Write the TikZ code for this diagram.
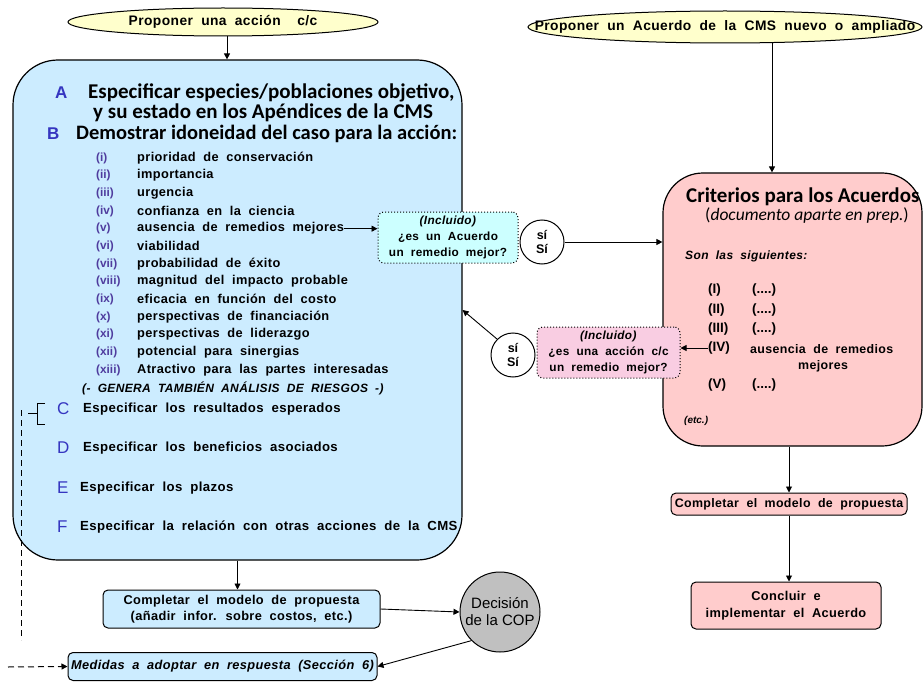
\documentclass[tikz,border=0pt]{standalone}
\usepackage{fontspec}
\setmainfont{Liberation Sans}
\newfontfamily\widefont{Liberation Sans}[LetterSpace=3]
\newfontfamily\calfont{Carlito}
\newcommand{\wf}[2]{\widefont\fontsize{#1}{#2}\selectfont\bfseries\spaceskip=0.6em plus 0.1em\relax}
\usetikzlibrary{shapes.geometric,arrows.meta}
\definecolor{lblue}{HTML}{CCECFF}
\definecolor{lcyan}{HTML}{CCFFFF}
\definecolor{lpink}{HTML}{FFCCCC}
\definecolor{lmauve}{HTML}{F9CDE2}
\definecolor{lyellow}{HTML}{FFFFCC}
\definecolor{cgray}{HTML}{C0C0C0}
\definecolor{letblue}{HTML}{3535C0}
\definecolor{numpurple}{HTML}{4F3C9E}
\tikzset{
  arr/.style={-{Triangle[length=6pt,width=6pt]}, line width=0.9pt},
  ell/.style={ellipse, draw, line width=1pt, fill=lyellow, inner sep=0pt},
  bigbox/.style={draw, line width=1.2pt, inner sep=0pt},
  smallbox/.style={draw, line width=1pt, rounded corners=5pt, inner sep=1pt, align=center},
  qbox/.style={draw, dotted, line width=1pt, rounded corners=6pt, inner sep=1pt, align=center, font=\wf{11.8}{16}},
  sicirc/.style={circle, draw, fill=white, line width=1pt, minimum size=44pt, inner sep=0pt, align=center, font=\fontsize{12.5}{14}\selectfont\bfseries},
  txt/.style={anchor=west, inner sep=0pt, font=\wf{12.8}{14}},
  num/.style={anchor=west, inner sep=0pt, text=numpurple, font=\fontsize{11.8}{13}\selectfont\bfseries},
  head/.style={anchor=west, inner sep=0pt, font=\fontsize{21}{22}\selectfont\calfont\bfseries},
  let/.style={anchor=west, inner sep=0pt, text=letblue, font=\fontsize{17}{19}\selectfont},
  rnum/.style={anchor=west, inner sep=0pt, font=\fontsize{13.5}{15}\selectfont\bfseries},
  dsh/.style={dash pattern=on 6pt off 4pt, line width=1pt},
}
\begin{document}
\begin{tikzpicture}[x=1pt,y=-1pt]
\useasboundingbox (0,0) rectangle (924,682);

% ---------- left column ----------
\node[ell, minimum width=310pt, minimum height=28pt] (E1) at (223,22) {};
\node[inner sep=0pt, font=\wf{13.8}{15}] (E1t) at (E1.center) {Proponer una acción\ \ c/c};
\node[bigbox, fill=lblue, rounded corners=45pt, minimum width=449pt, minimum height=500pt] (L) at (237.5,310) {};
\draw[arr] (227,0 |- E1.south) -- (227,0 |- L.north);

\node[let, font=\fontsize{17}{19}\selectfont\bfseries] (lA) at (55,93) {A};
\node[head] (hA1) at (88,93) {Especificar especies/poblaciones objetivo,};
\node[head] (hA2) at (93,113) {y su estado en los Apéndices de la CMS};
\node[let, font=\fontsize{17}{19}\selectfont\bfseries] (lB) at (47,134) {B};
\node[head, font=\fontsize{20.5}{22}\selectfont\calfont\bfseries] (hB) at (76,134) {Demostrar idoneidad del caso para la acción:};

\foreach \n/\t [count=\k from 0] in {
  (i)/prioridad de conservación,
  (ii)/importancia,
  (iii)/urgencia,
  (iv)/confianza en la ciencia,
  (v)/ausencia de remedios mejores,
  (vi)/viabilidad,
  (vii)/probabilidad de éxito,
  (viii)/magnitud del impacto probable,
  (ix)/eficacia en función del costo,
  (x)/perspectivas de financiación,
  (xi)/perspectivas de liderazgo,
  (xii)/potencial para sinergias,
  (xiii)/Atractivo para las partes interesadas}{
  \node[num] (n\k) at (96,158+17.67*\k) {\n};
  \node[txt] (t\k) at (137,158+17.67*\k) {\t};
}
\node[anchor=west, inner sep=0pt, font=\wf{12}{13}\itshape] (gen) at (82,388) {(- GENERA TAMBIÉN ANÁLISIS DE RIESGOS -)};

\node[let] (lC) at (57,409) {C};
\node[anchor=west, inner sep=0pt, font=\wf{13.2}{14}] (tC) at (83,409) {Especificar los resultados esperados};
\node[let] (lD) at (57,448) {D};
\node[anchor=west, inner sep=0pt, font=\wf{13.2}{14}] (tD) at (83,448) {Especificar los beneficios asociados};
\node[let] (lE) at (57,488) {E};
\node[anchor=west, inner sep=0pt, font=\wf{13.2}{14}] (tE) at (80,488) {Especificar los plazos};
\node[let] (lF) at (57,527) {F};
\node[anchor=west, inner sep=0pt, font=\wf{13.2}{14}] (tF) at (80,527) {Especificar la relación con otras acciones de la CMS};

% bracket and dashed line
\draw[line width=1pt] (28,413) -- (37,413);
\draw[line width=1pt] (45,403) -- (37,403) -- (37,424) -- (45,424);
\coordinate (dt) at (21,410);
\coordinate (db) at (21,640);
\draw[dsh] (dt) -- (db);

\node[smallbox, fill=lblue, minimum width=277pt, minimum height=38pt, font=\wf{12.8}{16}] (LC) at (241.5,609) {Completar el modelo de propuesta\\(añadir infor. sobre costos, etc.)};
\draw[arr] (L.south) -- (L.south |- LC.north);

\node[circle, draw, line width=1pt, fill=cgray, minimum size=80pt, inner sep=0pt, align=center, font=\fontsize{15}{17}\selectfont] (D) at (500,612) {Decisión\\de la COP};
\draw[arr] (LC.east) -- (D.west);

\node[smallbox, fill=lblue, minimum width=309pt, minimum height=28pt, font=\wf{12.8}{14}\itshape] (M) at (222.5,666.5) {Medidas a adoptar en respuesta (Sección 6)};
\draw[arr] (D.south west) -- (M.east);
\coordinate (ds) at (8,667);
\draw[arr, dsh] (ds) -- (M.west);

% ---------- right column ----------
\node[ell, minimum width=394pt, minimum height=32pt] (E2) at (725,27) {};
\node[inner sep=0pt, font=\wf{13.8}{15}] (E2t) at (E2.center) {Proponer un Acuerdo de la CMS nuevo o ampliado};

\node[bigbox, fill=lpink, rounded corners=40pt, minimum width=259pt, minimum height=273pt] (R) at (792.5,309.5) {};
\draw[arr] (772,0 |- E2.south) -- (772,0 |- R.north);

\node[head] (hR) at (686,197) {Criterios para los Acuerdos};
\node[anchor=west, inner sep=0pt, font=\fontsize{17.5}{19}\selectfont\calfont] (hR2) at (705,216) {(\textit{documento aparte en prep.})};
\node[anchor=west, inner sep=0pt, font=\wf{12}{13}\itshape] (son) at (685,256) {Son las siguientes:};
\node[rnum] (r1) at (708,290) {(I)};
\node[rnum] (d1) at (752,290) {(....)};
\node[rnum] (r2) at (708,310) {(II)};
\node[rnum] (d2) at (752,310) {(....)};
\node[rnum] (r3) at (708,329) {(III)};
\node[rnum] (d3) at (752,329) {(....)};
\node[rnum] (r4) at (708,348) {(IV)};
\node[anchor=west, inner sep=0pt, font=\wf{12.4}{13}] (a4) at (750,349) {ausencia de remedios};
\node[anchor=west, inner sep=0pt, font=\wf{12.4}{13}] (a5) at (798,366) {mejores};
\node[rnum] (r5) at (708,385) {(V)};
\node[rnum] (d5) at (752,385) {(....)};
\node[anchor=west, inner sep=0pt, font=\fontsize{10}{12}\selectfont\bfseries\itshape] (etc) at (684,421) {(etc.)};

\node[smallbox, fill=lpink, minimum width=236pt, minimum height=22pt, inner sep=0pt, font=\wf{12.4}{13}] (RC) at (789,504) {Completar el modelo de propuesta};
\draw[arr] (RC.north |- R.south) -- (RC.north);
\node[smallbox, fill=lpink, minimum width=190pt, minimum height=47pt, font=\wf{12.8}{17}] (RK) at (786,605.5) {Concluir e\\implementar el Acuerdo};
\draw[arr] (RC.south) -- (RC.south |- RK.north);

% ---------- middle ----------
\node[qbox, fill=lcyan, minimum width=140pt, minimum height=51pt] (Q1) at (448,237.5) {\textit{(Incluido)}\\¿es un Acuerdo\\un remedio mejor?};
\draw[arr] (t4.east) -- (t4.east -| Q1.west);
\node[sicirc] (S1) at (542,242) {sí\\Sí};
\draw[arr] (S1.east) -- (S1.east -| R.west);

\node[qbox, fill=lmauve, minimum width=143pt, minimum height=51pt] (Q2) at (608.5,352.5) {\textit{(Incluido)}\\¿es una acción c/c\\un remedio mejor?};
\node[sicirc] (S2) at (513,355) {sí\\Sí};
\draw[arr] (S2.north west) -- (L.east);
\draw[arr] (r4.west) -- (r4.west -| Q2.east);
\end{tikzpicture}
\end{document}
